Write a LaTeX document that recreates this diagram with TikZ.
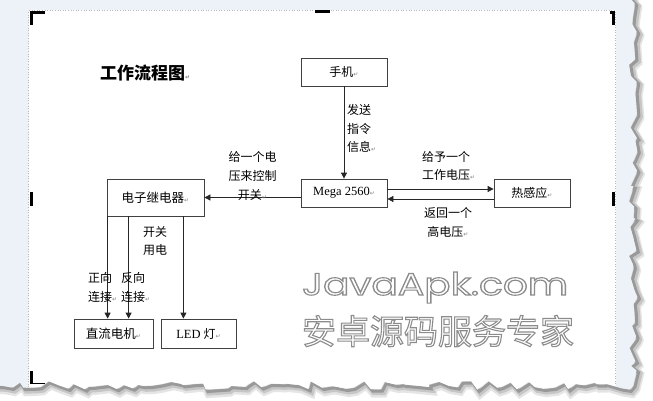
\documentclass[tikz,border=0pt]{standalone}
\usepackage{fontspec}
\usepackage{graphicx}
\setmainfont{Liberation Serif}
\newfontfamily\cjk{Noto Sans CJK SC}
\newfontfamily\symf{DejaVu Sans}
\newfontfamily\wmfont{Poppins}
\usetikzlibrary{arrows.meta,decorations.pathmorphing}
\definecolor{pagebg}{HTML}{EDF2F9}
\newcommand{\retmark}{{\symf\fontsize{6}{6}\selectfont\textcolor{gray}{↵}}}
\newcommand{\outlined}[1]{\special{pdf:literal direct 0.55 G 2 Tr 1.1 w}#1\special{pdf:literal direct 0 Tr}}
\tikzset{
  box/.style={draw=black!75, line width=0.8pt, inner sep=0pt, font=\cjk\fontsize{12}{12}\selectfont},
  arr/.style={-{Triangle[length=6pt,width=6pt]}, line width=0.8pt, black!85},
  lbl/.style={inner sep=0pt, font=\cjk\fontsize{12}{18.5}\selectfont},
  torn/.style={decorate, decoration={random steps, segment length=8pt, amplitude=4.5pt}},
  crop/.style={line width=3pt, black},
}
\newcommand{\tornpath}{(-10,-10) -- (633,-10) -- (633,385) -- (-10,385) -- cycle}
\begin{document}
\begin{tikzpicture}[x=1pt,y=-1pt]
\useasboundingbox (0,0) rectangle (653,401);
\fill[white] (0,0) rectangle (653,401);
% torn page edge with shadow
\pgfmathsetseed{7}
\draw[torn, shift={(3,4)}, gray!20, line width=9pt] \tornpath;
\pgfmathsetseed{7}
\draw[torn, shift={(3,3)}, gray!45, line width=6pt] \tornpath;
\pgfmathsetseed{7}
\draw[torn, shift={(2,2)}, gray!80, line width=3pt] \tornpath;
\pgfmathsetseed{7}
\fill[torn, pagebg] \tornpath;
\begin{scope}
  \pgfmathsetseed{7}
  \path[torn, clip] \tornpath;
  \fill[white] (28.5,10.5) rectangle (615.5,400);
  \draw[gray!55, dotted, line width=0.6pt] (28.5,400) -- (28.5,10.5) -- (615.5,10.5) -- (615.5,400);
\end{scope}
% crop marks
\draw[crop] (31.5,25) -- (31.5,12.5) -- (45,12.5);
\draw[crop] (315,11.5) -- (330,11.5);
\draw[crop] (610,12.5) -- (613.5,12.5) -- (613.5,25);
\draw[crop] (31,192) -- (31,206);
\draw[crop] (613.5,192) -- (613.5,206);
\draw[crop] (31.5,371) -- (31.5,384);
\draw[black, line width=1.5pt] (31,383.5) -- (45,383.5);

% title
\node[inner sep=0pt, anchor=west, font=\cjk\bfseries\fontsize{17}{17}\selectfont] (title) at (100,73) {工作流程图\retmark};

% boxes
\node[box, minimum width=86pt, minimum height=28pt] (phone) at (344,72) {手机\retmark};
\node[box, minimum width=86pt, minimum height=28pt] (mega) at (344,193) {{\rmfamily\fontsize{12.5}{12.5}\selectfont Mega 2560}\retmark};
\node[box, minimum width=76pt, minimum height=28pt] (heat) at (532,193) {热感应\retmark};
\node[box, minimum width=97pt, minimum height=37pt] (relay) at (155.5,197.5) {\fontsize{12.5}{12.5}\selectfont 电子继电器\retmark};
\node[box, minimum width=79pt, minimum height=29pt] (motor) at (113.5,333.5) {\fontsize{12.5}{12.5}\selectfont 直流电机\retmark};
\node[box, minimum width=75pt, minimum height=29pt] (led) at (198.5,333.5) {{\rmfamily\fontsize{12.5}{12.5}\selectfont LED }灯\retmark};

% connectors
\draw[arr] (phone) -- (mega);
\draw[arr] ([yshift=4pt]mega.east) -- ([yshift=4pt]heat.west);
\draw[arr] ([yshift=-6pt]heat.west) -- ([yshift=-6pt]mega.east);
\draw[arr] (mega.west |- relay.east) -- (relay.east);
\draw[arr] ([xshift=1pt]relay.south west) -- ([xshift=1pt]relay.south west |- motor.north);
\draw[arr] ([xshift=22pt]relay.south west) -- ([xshift=22pt]relay.south west |- motor.north);
\draw[arr] ([xshift=-21pt]relay.south east) -- ([xshift=-21pt]relay.south east |- led.north);

% labels
\node[lbl, anchor=west, align=left] (lsend) at (347,128.5) {发送\\指令\\信息\retmark};
\node[lbl, anchor=west, align=left, font=\cjk\fontsize{12}{18}\selectfont] (lgive) at (422,166) {给予一个\\工作电压\retmark};
\node[lbl, align=center, font=\cjk\fontsize{12}{19}\selectfont] (lback) at (448,222.5) {返回一个\\高电压\retmark};
\node[lbl, align=center, font=\cjk\fontsize{12}{19}\selectfont] (lctrl) at (252.5,176) {给一个电\\压来控制\\开关\retmark};
\node[lbl, anchor=west, align=left, font=\cjk\fontsize{12}{18}\selectfont] (lpower) at (143,241) {开关\\用电};
\node[lbl, anchor=west, align=left, font=\cjk\fontsize{12}{19}\selectfont] (lfwd) at (88,287.5) {正向\\连接\retmark};
\node[lbl, anchor=west, align=left, font=\cjk\fontsize{12}{19}\selectfont] (lrev) at (121,287.5) {反向\\连接\retmark};

% watermark
\node[inner sep=0pt, anchor=base west, text=white] (wm1) at (302,295) {\resizebox{266pt}{23pt}{\wmfont\fontsize{31}{31}\selectfont\outlined{JavaApk.com}}};
\node[inner sep=0pt, text=white, font=\cjk\fontsize{34}{34}\selectfont] (wm2) at (438,331) {\outlined{安卓源码服务专家}};
\end{tikzpicture}
\end{document}
